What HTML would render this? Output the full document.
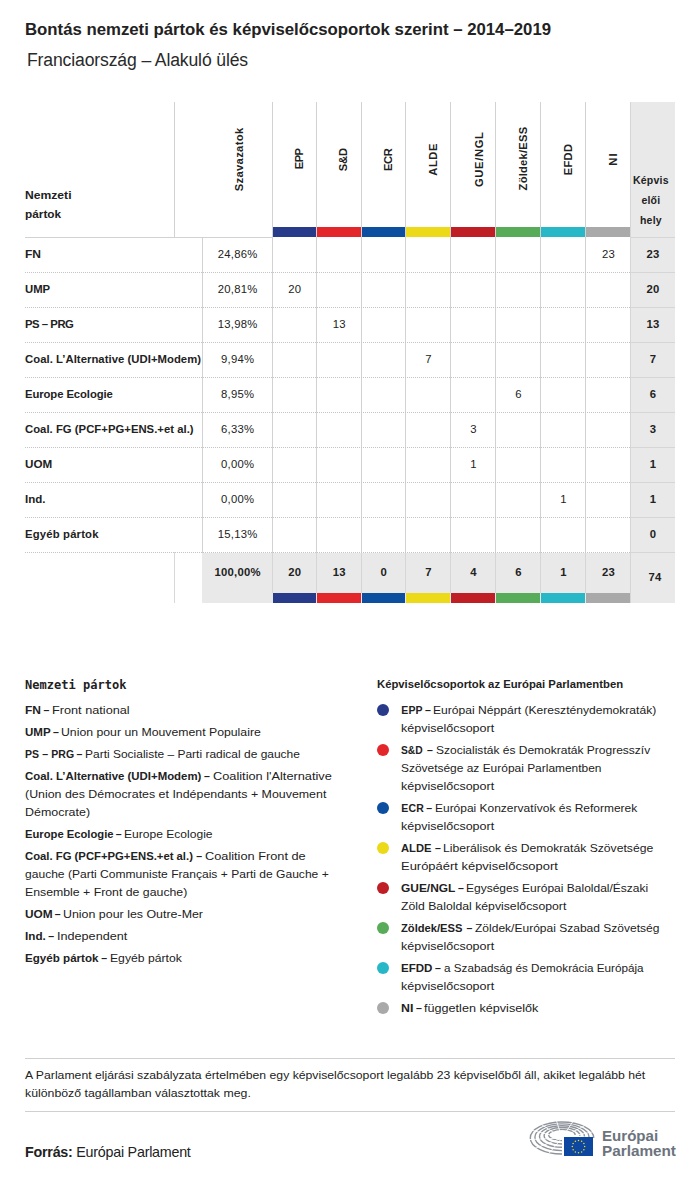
<!DOCTYPE html>
<html lang="hu"><head><meta charset="utf-8"><title>Bontás nemzeti pártok és képviselőcsoportok szerint</title>
<style>
*{margin:0;padding:0;box-sizing:border-box}
html,body{width:700px;height:1177px;background:#fff;overflow:hidden}
body{position:relative;font-family:'Liberation Sans', 'DejaVu Sans', sans-serif;color:#222}
.t{position:absolute;white-space:nowrap;line-height:1}
.t b{font-weight:bold}
.r{position:absolute}
.rot{transform:rotate(-90deg);transform-origin:50% 50%}
.dot{position:absolute;height:1px;border-top:1px dotted #c4c4c4}
.dotc{position:absolute;width:12px;height:12px;border-radius:50%}
.logo{position:absolute}
</style></head><body>
<div class="t" id="title" style="left:25px;top:22px;font-size:16.8px;font-weight:bold;color:#222;letter-spacing:-0.015px;font-family:'Liberation Sans', 'DejaVu Sans', sans-serif">Bontás nemzeti pártok és képviselőcsoportok szerint – 2014–2019</div>
<div class="t" id="sub" style="left:27px;top:52px;font-size:17.6px;font-weight:normal;color:#2a2a2a;letter-spacing:-0.141px;font-family:'Liberation Sans', 'DejaVu Sans', sans-serif">Franciaország – Alakuló ülés</div>
<div class="r" style="left:630px;top:102px;width:45px;height:501px;background:#e9e9e9"></div>
<div class="r" style="left:174px;top:102px;width:1px;height:135px;background:#d2d2d2"></div>
<div class="r" style="left:272px;top:102px;width:1px;height:451px;background:#d2d2d2"></div>
<div class="r" style="left:316px;top:102px;width:1px;height:451px;background:#d2d2d2"></div>
<div class="r" style="left:361px;top:102px;width:1px;height:451px;background:#d2d2d2"></div>
<div class="r" style="left:405px;top:102px;width:1px;height:451px;background:#d2d2d2"></div>
<div class="r" style="left:450px;top:102px;width:1px;height:451px;background:#d2d2d2"></div>
<div class="r" style="left:495px;top:102px;width:1px;height:451px;background:#d2d2d2"></div>
<div class="r" style="left:540px;top:102px;width:1px;height:451px;background:#d2d2d2"></div>
<div class="r" style="left:585px;top:102px;width:1px;height:451px;background:#d2d2d2"></div>
<div class="r" style="left:630px;top:102px;width:1px;height:501px;background:#d6d6d6"></div>
<div class="r" style="left:25px;top:237px;width:247px;height:1px;background:#d2d2d2"></div>
<div class="r" style="left:630px;top:237px;width:45px;height:1px;background:#d6d6d6"></div>
<div class="r" style="left:273px;top:227px;width:43px;height:10px;background:#283a8a"></div>
<div class="r" style="left:317px;top:227px;width:44px;height:10px;background:#e2262a"></div>
<div class="r" style="left:362px;top:227px;width:43px;height:10px;background:#0c4ea0"></div>
<div class="r" style="left:406px;top:227px;width:44px;height:10px;background:#ecd918"></div>
<div class="r" style="left:451px;top:227px;width:44px;height:10px;background:#bf1e24"></div>
<div class="r" style="left:496px;top:227px;width:44px;height:10px;background:#58ab58"></div>
<div class="r" style="left:541px;top:227px;width:44px;height:10px;background:#28b7c7"></div>
<div class="r" style="left:586px;top:227px;width:44px;height:10px;background:#a9a9a9"></div>
<div class="t" id="hn1" style="left:25px;top:190px;font-size:10.5px;font-weight:bold;color:#222;font-family:'Liberation Sans', 'DejaVu Sans', sans-serif;transform:scaleX(1.1551);transform-origin:0 0">Nemzeti</div>
<div class="t" id="hn2" style="left:25px;top:209px;font-size:10.5px;font-weight:bold;color:#222;font-family:'Liberation Sans', 'DejaVu Sans', sans-serif;transform:scaleX(1.1255);transform-origin:0 0">pártok</div>
<div class="t rot" id="hszav" style="left:189.90px;top:153.90px;width:100px;height:11.2px;text-align:center;font-size:11.2px;font-weight:bold;letter-spacing:0.344px;text-indent:0.344px">Szavazatok</div>
<div class="t rot" id="hg0" style="left:249.50px;top:153.40px;width:100px;height:11.2px;text-align:center;font-size:11.2px;font-weight:bold;letter-spacing:-0.650px;text-indent:-0.650px">EPP</div>
<div class="t rot" id="hg1" style="left:294.10px;top:154.40px;width:100px;height:11.2px;text-align:center;font-size:11.2px;font-weight:bold;letter-spacing:-0.050px;text-indent:-0.050px">S&amp;D</div>
<div class="t rot" id="hg2" style="left:338.70px;top:153.90px;width:100px;height:11.2px;text-align:center;font-size:11.2px;font-weight:bold;letter-spacing:-0.350px;text-indent:-0.350px">ECR</div>
<div class="t rot" id="hg3" style="left:384.10px;top:153.60px;width:100px;height:11.2px;text-align:center;font-size:11.2px;font-weight:bold;letter-spacing:0.567px;text-indent:0.567px">ALDE</div>
<div class="t rot" id="hg4" style="left:430.00px;top:154.00px;width:100px;height:11.2px;text-align:center;font-size:11.2px;font-weight:bold;letter-spacing:0.667px;text-indent:0.667px">GUE/NGL</div>
<div class="t rot" id="hg5" style="left:473.70px;top:153.40px;width:100px;height:11.2px;text-align:center;font-size:11.2px;font-weight:bold;letter-spacing:0.222px;text-indent:0.222px">Zöldek/ESS</div>
<div class="t rot" id="hg6" style="left:518.70px;top:154.30px;width:100px;height:11.2px;text-align:center;font-size:11.2px;font-weight:bold;letter-spacing:0.300px;text-indent:0.300px">EFDD</div>
<div class="t rot" id="hg7" style="left:563.70px;top:154.20px;width:100px;height:11.2px;text-align:center;font-size:11.2px;font-weight:bold;letter-spacing:1.300px;text-indent:1.300px">NI</div>
<div class="t" id="hk1" style="left:628.92px;width:44px;text-align:center;top:175px;font-size:10.5px;font-weight:bold;color:#222;letter-spacing:0.240px">Képvis</div>
<div class="t" id="hk2x" style="left:628.92px;width:44px;text-align:center;top:195px;font-size:10.5px;font-weight:bold;color:#222;letter-spacing:0.240px">elői</div>
<div class="t" id="hk3x" style="left:628.92px;width:44px;text-align:center;top:215px;font-size:10.5px;font-weight:bold;color:#222;letter-spacing:0.240px">hely</div>
<div class="r" style="left:202px;top:237px;width:1px;height:316px;background:#d2d2d2"></div>
<div class="t" id="rl0" style="left:25px;top:249px;font-size:11.3px;font-weight:bold;color:#222;font-family:'Liberation Sans', 'DejaVu Sans', sans-serif;transform:scaleX(1.0659);transform-origin:0 0">FN</div>
<div class="t" id="rp0" style="left:207.61px;width:60px;text-align:center;top:249px;font-size:11.3px;font-weight:normal;color:#222;letter-spacing:0.220px">24,86%</div>
<div class="t" id="i1" style="left:578.61px;width:60px;text-align:center;top:249px;font-size:11.3px;font-weight:normal;color:#222;letter-spacing:0.220px">23</div>
<div class="t" id="i2" style="left:623.11px;width:60px;text-align:center;top:249px;font-size:11.3px;font-weight:bold;color:#222;letter-spacing:0.220px">23</div>
<div class="dot" style="left:25px;top:272px;width:605px"></div>
<div class="r" style="left:630px;top:272px;width:45px;height:1px;background:#d6d6d6"></div>
<div class="t" id="rl1" style="left:25px;top:284px;font-size:11.3px;font-weight:bold;color:#222;letter-spacing:0.000px;font-family:'Liberation Sans', 'DejaVu Sans', sans-serif">UMP</div>
<div class="t" id="rp1" style="left:207.61px;width:60px;text-align:center;top:284px;font-size:11.3px;font-weight:normal;color:#222;letter-spacing:0.220px">20,81%</div>
<div class="t" id="i3" style="left:264.86px;width:60px;text-align:center;top:284px;font-size:11.3px;font-weight:normal;color:#222;letter-spacing:0.220px">20</div>
<div class="t" id="i4" style="left:623.11px;width:60px;text-align:center;top:284px;font-size:11.3px;font-weight:bold;color:#222;letter-spacing:0.220px">20</div>
<div class="dot" style="left:25px;top:307px;width:605px"></div>
<div class="r" style="left:630px;top:307px;width:45px;height:1px;background:#d6d6d6"></div>
<div class="t" id="rl2" style="left:25px;top:319px;font-size:11.3px;font-weight:bold;color:#222;letter-spacing:-0.457px;font-family:'Liberation Sans', 'DejaVu Sans', sans-serif">PS – PRG</div>
<div class="t" id="rp2" style="left:207.61px;width:60px;text-align:center;top:319px;font-size:11.3px;font-weight:normal;color:#222;letter-spacing:0.220px">13,98%</div>
<div class="t" id="i5" style="left:309.36px;width:60px;text-align:center;top:319px;font-size:11.3px;font-weight:normal;color:#222;letter-spacing:0.220px">13</div>
<div class="t" id="i6" style="left:623.11px;width:60px;text-align:center;top:319px;font-size:11.3px;font-weight:bold;color:#222;letter-spacing:0.220px">13</div>
<div class="dot" style="left:25px;top:342px;width:605px"></div>
<div class="r" style="left:630px;top:342px;width:45px;height:1px;background:#d6d6d6"></div>
<div class="t" id="rl3" style="left:25px;top:354px;font-size:11.3px;font-weight:bold;color:#222;letter-spacing:0.040px;font-family:'Liberation Sans', 'DejaVu Sans', sans-serif">Coal. L’Alternative (UDI+Modem)</div>
<div class="t" id="rp3" style="left:207.61px;width:60px;text-align:center;top:354px;font-size:11.3px;font-weight:normal;color:#222;letter-spacing:0.220px">9,94%</div>
<div class="t" id="i7" style="left:398.61px;width:60px;text-align:center;top:354px;font-size:11.3px;font-weight:normal;color:#222;letter-spacing:0.220px">7</div>
<div class="t" id="i8" style="left:623.11px;width:60px;text-align:center;top:354px;font-size:11.3px;font-weight:bold;color:#222;letter-spacing:0.220px">7</div>
<div class="dot" style="left:25px;top:377px;width:605px"></div>
<div class="r" style="left:630px;top:377px;width:45px;height:1px;background:#d6d6d6"></div>
<div class="t" id="rl4" style="left:25px;top:389px;font-size:11.3px;font-weight:bold;color:#222;letter-spacing:-0.093px;font-family:'Liberation Sans', 'DejaVu Sans', sans-serif">Europe Ecologie</div>
<div class="t" id="rp4" style="left:207.61px;width:60px;text-align:center;top:389px;font-size:11.3px;font-weight:normal;color:#222;letter-spacing:0.220px">8,95%</div>
<div class="t" id="i9" style="left:488.61px;width:60px;text-align:center;top:389px;font-size:11.3px;font-weight:normal;color:#222;letter-spacing:0.220px">6</div>
<div class="t" id="i10" style="left:623.11px;width:60px;text-align:center;top:389px;font-size:11.3px;font-weight:bold;color:#222;letter-spacing:0.220px">6</div>
<div class="dot" style="left:25px;top:412px;width:605px"></div>
<div class="r" style="left:630px;top:412px;width:45px;height:1px;background:#d6d6d6"></div>
<div class="t" id="rl5" style="left:25px;top:424px;font-size:11.3px;font-weight:bold;color:#222;letter-spacing:0.025px;font-family:'Liberation Sans', 'DejaVu Sans', sans-serif">Coal. FG (PCF+PG+ENS.+et al.)</div>
<div class="t" id="rp5" style="left:207.61px;width:60px;text-align:center;top:424px;font-size:11.3px;font-weight:normal;color:#222;letter-spacing:0.220px">6,33%</div>
<div class="t" id="i11" style="left:443.61px;width:60px;text-align:center;top:424px;font-size:11.3px;font-weight:normal;color:#222;letter-spacing:0.220px">3</div>
<div class="t" id="i12" style="left:623.11px;width:60px;text-align:center;top:424px;font-size:11.3px;font-weight:bold;color:#222;letter-spacing:0.220px">3</div>
<div class="dot" style="left:25px;top:447px;width:605px"></div>
<div class="r" style="left:630px;top:447px;width:45px;height:1px;background:#d6d6d6"></div>
<div class="t" id="rl6" style="left:25px;top:459px;font-size:11.3px;font-weight:bold;color:#222;font-family:'Liberation Sans', 'DejaVu Sans', sans-serif;transform:scaleX(1.0310);transform-origin:0 0">UOM</div>
<div class="t" id="rp6" style="left:207.61px;width:60px;text-align:center;top:459px;font-size:11.3px;font-weight:normal;color:#222;letter-spacing:0.220px">0,00%</div>
<div class="t" id="i13" style="left:443.61px;width:60px;text-align:center;top:459px;font-size:11.3px;font-weight:normal;color:#222;letter-spacing:0.220px">1</div>
<div class="t" id="i14" style="left:623.11px;width:60px;text-align:center;top:459px;font-size:11.3px;font-weight:bold;color:#222;letter-spacing:0.220px">1</div>
<div class="dot" style="left:25px;top:482px;width:605px"></div>
<div class="r" style="left:630px;top:482px;width:45px;height:1px;background:#d6d6d6"></div>
<div class="t" id="rl7" style="left:25px;top:494px;font-size:11.3px;font-weight:bold;color:#222;font-family:'Liberation Sans', 'DejaVu Sans', sans-serif;transform:scaleX(1.0216);transform-origin:0 0">Ind.</div>
<div class="t" id="rp7" style="left:207.61px;width:60px;text-align:center;top:494px;font-size:11.3px;font-weight:normal;color:#222;letter-spacing:0.220px">0,00%</div>
<div class="t" id="i15" style="left:533.61px;width:60px;text-align:center;top:494px;font-size:11.3px;font-weight:normal;color:#222;letter-spacing:0.220px">1</div>
<div class="t" id="i16" style="left:623.11px;width:60px;text-align:center;top:494px;font-size:11.3px;font-weight:bold;color:#222;letter-spacing:0.220px">1</div>
<div class="dot" style="left:25px;top:517px;width:605px"></div>
<div class="r" style="left:630px;top:517px;width:45px;height:1px;background:#d6d6d6"></div>
<div class="t" id="rl8" style="left:25px;top:529px;font-size:11.3px;font-weight:bold;color:#222;letter-spacing:0.173px;font-family:'Liberation Sans', 'DejaVu Sans', sans-serif">Egyéb pártok</div>
<div class="t" id="rp8" style="left:207.61px;width:60px;text-align:center;top:529px;font-size:11.3px;font-weight:normal;color:#222;letter-spacing:0.220px">15,13%</div>
<div class="t" id="i17" style="left:623.11px;width:60px;text-align:center;top:529px;font-size:11.3px;font-weight:bold;color:#222;letter-spacing:0.220px">0</div>
<div class="dot" style="left:25px;top:552px;width:605px"></div>
<div class="r" style="left:630px;top:552px;width:45px;height:1px;background:#d6d6d6"></div>
<div class="r" style="left:202px;top:553px;width:428px;height:50px;background:#e9e9e9"></div>
<div class="r" style="left:174px;top:552px;width:1px;height:51px;background:#d8d8d8"></div>
<div class="r" style="left:272px;top:553px;width:1px;height:40px;background:#d6d6d6"></div>
<div class="r" style="left:316px;top:553px;width:1px;height:40px;background:#d6d6d6"></div>
<div class="r" style="left:361px;top:553px;width:1px;height:40px;background:#d6d6d6"></div>
<div class="r" style="left:405px;top:553px;width:1px;height:40px;background:#d6d6d6"></div>
<div class="r" style="left:450px;top:553px;width:1px;height:40px;background:#d6d6d6"></div>
<div class="r" style="left:495px;top:553px;width:1px;height:40px;background:#d6d6d6"></div>
<div class="r" style="left:540px;top:553px;width:1px;height:40px;background:#d6d6d6"></div>
<div class="r" style="left:585px;top:553px;width:1px;height:40px;background:#d6d6d6"></div>
<div class="r" style="left:273px;top:593px;width:43px;height:10px;background:#283a8a"></div>
<div class="r" style="left:317px;top:593px;width:44px;height:10px;background:#e2262a"></div>
<div class="r" style="left:362px;top:593px;width:43px;height:10px;background:#0c4ea0"></div>
<div class="r" style="left:406px;top:593px;width:44px;height:10px;background:#ecd918"></div>
<div class="r" style="left:451px;top:593px;width:44px;height:10px;background:#bf1e24"></div>
<div class="r" style="left:496px;top:593px;width:44px;height:10px;background:#58ab58"></div>
<div class="r" style="left:541px;top:593px;width:44px;height:10px;background:#28b7c7"></div>
<div class="r" style="left:586px;top:593px;width:44px;height:10px;background:#a9a9a9"></div>
<div class="t" id="i18" style="left:207.61px;width:60px;text-align:center;top:567px;font-size:11.3px;font-weight:bold;color:#222;letter-spacing:0.220px">100,00%</div>
<div class="t" id="i19" style="left:264.86px;width:60px;text-align:center;top:567px;font-size:11.3px;font-weight:bold;color:#222;letter-spacing:0.220px">20</div>
<div class="t" id="i20" style="left:309.36px;width:60px;text-align:center;top:567px;font-size:11.3px;font-weight:bold;color:#222;letter-spacing:0.220px">13</div>
<div class="t" id="i21" style="left:353.86px;width:60px;text-align:center;top:567px;font-size:11.3px;font-weight:bold;color:#222;letter-spacing:0.220px">0</div>
<div class="t" id="i22" style="left:398.61px;width:60px;text-align:center;top:567px;font-size:11.3px;font-weight:bold;color:#222;letter-spacing:0.220px">7</div>
<div class="t" id="i23" style="left:443.61px;width:60px;text-align:center;top:567px;font-size:11.3px;font-weight:bold;color:#222;letter-spacing:0.220px">4</div>
<div class="t" id="i24" style="left:488.61px;width:60px;text-align:center;top:567px;font-size:11.3px;font-weight:bold;color:#222;letter-spacing:0.220px">6</div>
<div class="t" id="i25" style="left:533.61px;width:60px;text-align:center;top:567px;font-size:11.3px;font-weight:bold;color:#222;letter-spacing:0.220px">1</div>
<div class="t" id="i26" style="left:578.61px;width:60px;text-align:center;top:567px;font-size:11.3px;font-weight:bold;color:#222;letter-spacing:0.220px">23</div>
<div class="t" id="i27" style="left:625.11px;width:60px;text-align:center;top:572px;font-size:11.3px;font-weight:bold;color:#222;letter-spacing:0.220px">74</div>
<div class="t" id="lgh" style="left:25px;top:679px;font-size:12px;font-weight:bold;color:#222;letter-spacing:0.031px;font-family:'DejaVu Sans Mono', 'Liberation Mono', monospace">Nemzeti pártok</div>
<div class="t" id="ll0b" style="left:25px;top:705px;font-size:10.5px;font-weight:bold;color:#222;font-family:'Liberation Sans', 'DejaVu Sans', sans-serif;transform:scaleX(1.1428);transform-origin:0 0">FN</div>
<div class="t" id="ll0d" style="left:43.599999999999994px;top:705px;font-size:10.5px;font-weight:bold;color:#222;letter-spacing:0.000px;font-family:'Liberation Sans', 'DejaVu Sans', sans-serif">–</div>
<div class="t" id="ll0" style="left:52.199999999999996px;top:705px;font-size:10.5px;font-weight:normal;color:#222;font-family:'Liberation Sans', 'DejaVu Sans', sans-serif;transform:scaleX(1.2100);transform-origin:0 0">Front national</div>
<div class="t" id="ll1b" style="left:25px;top:727px;font-size:10.5px;font-weight:bold;color:#222;font-family:'Liberation Sans', 'DejaVu Sans', sans-serif;transform:scaleX(1.1000);transform-origin:0 0">UMP</div>
<div class="t" id="ll1d" style="left:52.9px;top:727px;font-size:10.5px;font-weight:bold;color:#222;letter-spacing:0.000px;font-family:'Liberation Sans', 'DejaVu Sans', sans-serif">–</div>
<div class="t" id="ll1" style="left:61.300000000000004px;top:727px;font-size:10.5px;font-weight:normal;color:#222;font-family:'Liberation Sans', 'DejaVu Sans', sans-serif;transform:scaleX(1.1682);transform-origin:0 0">Union pour un Mouvement Populaire</div>
<div class="t" id="ll2b" style="left:25px;top:749px;font-size:10.5px;font-weight:bold;color:#222;letter-spacing:0.114px;font-family:'Liberation Sans', 'DejaVu Sans', sans-serif">PS – PRG</div>
<div class="t" id="ll2d" style="left:76.5px;top:749px;font-size:10.5px;font-weight:bold;color:#222;letter-spacing:0.000px;font-family:'Liberation Sans', 'DejaVu Sans', sans-serif">–</div>
<div class="t" id="ll2" style="left:84.9px;top:749px;font-size:10.5px;font-weight:normal;color:#222;font-family:'Liberation Sans', 'DejaVu Sans', sans-serif;transform:scaleX(1.1400);transform-origin:0 0">Parti Socialiste – Parti radical de gauche</div>
<div class="t" id="ll3b" style="left:25px;top:771px;font-size:10.5px;font-weight:bold;color:#222;font-family:'Liberation Sans', 'DejaVu Sans', sans-serif;transform:scaleX(1.0852);transform-origin:0 0">Coal. L’Alternative (UDI+Modem)</div>
<div class="t" id="ll3d" style="left:204.10000000000002px;top:771px;font-size:10.5px;font-weight:bold;color:#222;letter-spacing:0.000px;font-family:'Liberation Sans', 'DejaVu Sans', sans-serif">–</div>
<div class="t" id="ll3" style="left:212.6px;top:771px;font-size:10.5px;font-weight:normal;color:#222;font-family:'Liberation Sans', 'DejaVu Sans', sans-serif;transform:scaleX(1.2157);transform-origin:0 0">Coalition l'Alternative</div>
<div class="t" id="ll4" style="left:25.0px;top:789px;font-size:10.5px;font-weight:normal;color:#222;font-family:'Liberation Sans', 'DejaVu Sans', sans-serif;transform:scaleX(1.1801);transform-origin:0 0">(Union des Démocrates et Indépendants + Mouvement</div>
<div class="t" id="ll5" style="left:25.0px;top:807px;font-size:10.5px;font-weight:normal;color:#222;font-family:'Liberation Sans', 'DejaVu Sans', sans-serif;transform:scaleX(1.1864);transform-origin:0 0">Démocrate)</div>
<div class="t" id="ll6b" style="left:25px;top:829px;font-size:10.5px;font-weight:bold;color:#222;font-family:'Liberation Sans', 'DejaVu Sans', sans-serif;transform:scaleX(1.0680);transform-origin:0 0">Europe Ecologie</div>
<div class="t" id="ll6d" style="left:115.8px;top:829px;font-size:10.5px;font-weight:bold;color:#222;letter-spacing:0.000px;font-family:'Liberation Sans', 'DejaVu Sans', sans-serif">–</div>
<div class="t" id="ll6" style="left:124.2px;top:829px;font-size:10.5px;font-weight:normal;color:#222;font-family:'Liberation Sans', 'DejaVu Sans', sans-serif;transform:scaleX(1.1489);transform-origin:0 0">Europe Ecologie</div>
<div class="t" id="ll7b" style="left:25px;top:851px;font-size:10.5px;font-weight:bold;color:#222;font-family:'Liberation Sans', 'DejaVu Sans', sans-serif;transform:scaleX(1.0758);transform-origin:0 0">Coal. FG (PCF+PG+ENS.+et al.)</div>
<div class="t" id="ll7d" style="left:196.3px;top:851px;font-size:10.5px;font-weight:bold;color:#222;letter-spacing:0.000px;font-family:'Liberation Sans', 'DejaVu Sans', sans-serif">–</div>
<div class="t" id="ll7" style="left:204.6px;top:851px;font-size:10.5px;font-weight:normal;color:#222;font-family:'Liberation Sans', 'DejaVu Sans', sans-serif;transform:scaleX(1.2153);transform-origin:0 0">Coalition Front de</div>
<div class="t" id="ll8" style="left:25.0px;top:869px;font-size:10.5px;font-weight:normal;color:#222;font-family:'Liberation Sans', 'DejaVu Sans', sans-serif;transform:scaleX(1.1488);transform-origin:0 0">gauche (Parti Communiste Français + Parti de Gauche +</div>
<div class="t" id="ll9" style="left:25.0px;top:887px;font-size:10.5px;font-weight:normal;color:#222;font-family:'Liberation Sans', 'DejaVu Sans', sans-serif;transform:scaleX(1.1708);transform-origin:0 0">Ensemble + Front de gauche)</div>
<div class="t" id="ll10b" style="left:25px;top:909px;font-size:10.5px;font-weight:bold;color:#222;font-family:'Liberation Sans', 'DejaVu Sans', sans-serif;transform:scaleX(1.1307);transform-origin:0 0">UOM</div>
<div class="t" id="ll10d" style="left:54.699999999999996px;top:909px;font-size:10.5px;font-weight:bold;color:#222;letter-spacing:0.000px;font-family:'Liberation Sans', 'DejaVu Sans', sans-serif">–</div>
<div class="t" id="ll10" style="left:63.1px;top:909px;font-size:10.5px;font-weight:normal;color:#222;font-family:'Liberation Sans', 'DejaVu Sans', sans-serif;transform:scaleX(1.1818);transform-origin:0 0">Union pour les Outre-Mer</div>
<div class="t" id="ll11b" style="left:25px;top:931px;font-size:10.5px;font-weight:bold;color:#222;font-family:'Liberation Sans', 'DejaVu Sans', sans-serif;transform:scaleX(1.1127);transform-origin:0 0">Ind.</div>
<div class="t" id="ll11d" style="left:48.199999999999996px;top:931px;font-size:10.5px;font-weight:bold;color:#222;letter-spacing:0.000px;font-family:'Liberation Sans', 'DejaVu Sans', sans-serif">–</div>
<div class="t" id="ll11" style="left:56.6px;top:931px;font-size:10.5px;font-weight:normal;color:#222;font-family:'Liberation Sans', 'DejaVu Sans', sans-serif;transform:scaleX(1.2032);transform-origin:0 0">Independent</div>
<div class="t" id="ll12b" style="left:25px;top:953px;font-size:10.5px;font-weight:bold;color:#222;font-family:'Liberation Sans', 'DejaVu Sans', sans-serif;transform:scaleX(1.1055);transform-origin:0 0">Egyéb pártok</div>
<div class="t" id="ll12d" style="left:101.2px;top:953px;font-size:10.5px;font-weight:bold;color:#222;letter-spacing:0.000px;font-family:'Liberation Sans', 'DejaVu Sans', sans-serif">–</div>
<div class="t" id="ll12" style="left:109.60000000000001px;top:953px;font-size:10.5px;font-weight:normal;color:#222;font-family:'Liberation Sans', 'DejaVu Sans', sans-serif;transform:scaleX(1.1596);transform-origin:0 0">Egyéb pártok</div>
<div class="t" id="rgh" style="left:377px;top:679px;font-size:10.5px;font-weight:bold;color:#222;font-family:'Liberation Sans', 'DejaVu Sans', sans-serif;transform:scaleX(1.0758);transform-origin:0 0">Képviselőcsoportok az Európai Parlamentben</div>
<div class="t" id="rr0b" style="left:401.2px;top:705px;font-size:10.5px;font-weight:bold;color:#222;letter-spacing:0.200px;font-family:'Liberation Sans', 'DejaVu Sans', sans-serif">EPP</div>
<div class="t" id="rr0d" style="left:424.90000000000003px;top:705px;font-size:10.5px;font-weight:bold;color:#222;letter-spacing:0.000px;font-family:'Liberation Sans', 'DejaVu Sans', sans-serif">–</div>
<div class="t" id="rr0" style="left:433.29999999999995px;top:705px;font-size:10.5px;font-weight:normal;color:#222;font-family:'Liberation Sans', 'DejaVu Sans', sans-serif;transform:scaleX(1.1521);transform-origin:0 0">Európai Néppárt (Kereszténydemokraták)</div>
<div class="dotc" style="left:377px;top:704px;background:#283a8a"></div>
<div class="t" id="rr1" style="left:401.2px;top:723px;font-size:10.5px;font-weight:normal;color:#222;font-family:'Liberation Sans', 'DejaVu Sans', sans-serif;transform:scaleX(1.1913);transform-origin:0 0">képviselőcsoport</div>
<div class="t" id="rr2b" style="left:401.2px;top:745px;font-size:10.5px;font-weight:bold;color:#222;font-family:'Liberation Sans', 'DejaVu Sans', sans-serif;transform:scaleX(0.9778);transform-origin:0 0">S&amp;D</div>
<div class="t" id="rr2d" style="left:426.90000000000003px;top:745px;font-size:10.5px;font-weight:bold;color:#222;letter-spacing:0.000px;font-family:'Liberation Sans', 'DejaVu Sans', sans-serif">–</div>
<div class="t" id="rr2" style="left:435.5px;top:745px;font-size:10.5px;font-weight:normal;color:#222;font-family:'Liberation Sans', 'DejaVu Sans', sans-serif;transform:scaleX(1.1435);transform-origin:0 0">Szocialisták és Demokraták Progresszív</div>
<div class="dotc" style="left:377px;top:744px;background:#e2262a"></div>
<div class="t" id="rr3" style="left:401.2px;top:763px;font-size:10.5px;font-weight:normal;color:#222;font-family:'Liberation Sans', 'DejaVu Sans', sans-serif;transform:scaleX(1.1374);transform-origin:0 0">Szövetsége az Európai Parlamentben</div>
<div class="t" id="rr4" style="left:401.2px;top:781px;font-size:10.5px;font-weight:normal;color:#222;font-family:'Liberation Sans', 'DejaVu Sans', sans-serif;transform:scaleX(1.1913);transform-origin:0 0">képviselőcsoport</div>
<div class="t" id="rr5b" style="left:401.2px;top:803px;font-size:10.5px;font-weight:bold;color:#222;letter-spacing:0.300px;font-family:'Liberation Sans', 'DejaVu Sans', sans-serif">ECR</div>
<div class="t" id="rr5d" style="left:426.3px;top:803px;font-size:10.5px;font-weight:bold;color:#222;letter-spacing:0.000px;font-family:'Liberation Sans', 'DejaVu Sans', sans-serif">–</div>
<div class="t" id="rr5" style="left:435.0px;top:803px;font-size:10.5px;font-weight:normal;color:#222;font-family:'Liberation Sans', 'DejaVu Sans', sans-serif;transform:scaleX(1.1398);transform-origin:0 0">Európai Konzervatívok és Reformerek</div>
<div class="dotc" style="left:377px;top:802px;background:#0c4ea0"></div>
<div class="t" id="rr6" style="left:401.2px;top:821px;font-size:10.5px;font-weight:normal;color:#222;font-family:'Liberation Sans', 'DejaVu Sans', sans-serif;transform:scaleX(1.1913);transform-origin:0 0">képviselőcsoport</div>
<div class="t" id="rr7b" style="left:401.2px;top:843px;font-size:10.5px;font-weight:bold;color:#222;font-family:'Liberation Sans', 'DejaVu Sans', sans-serif;transform:scaleX(1.0645);transform-origin:0 0">ALDE</div>
<div class="t" id="rr7d" style="left:435.1px;top:843px;font-size:10.5px;font-weight:bold;color:#222;letter-spacing:0.000px;font-family:'Liberation Sans', 'DejaVu Sans', sans-serif">–</div>
<div class="t" id="rr7" style="left:443.0px;top:843px;font-size:10.5px;font-weight:normal;color:#222;font-family:'Liberation Sans', 'DejaVu Sans', sans-serif;transform:scaleX(1.1582);transform-origin:0 0">Liberálisok és Demokraták Szövetsége</div>
<div class="dotc" style="left:377px;top:842px;background:#ecd918"></div>
<div class="t" id="rr8" style="left:401.2px;top:861px;font-size:10.5px;font-weight:normal;color:#222;font-family:'Liberation Sans', 'DejaVu Sans', sans-serif;transform:scaleX(1.2330);transform-origin:0 0">Európáért képviselőcsoport</div>
<div class="t" id="rr9b" style="left:401.2px;top:883px;font-size:10.5px;font-weight:bold;color:#222;font-family:'Liberation Sans', 'DejaVu Sans', sans-serif;transform:scaleX(1.1354);transform-origin:0 0">GUE/NGL</div>
<div class="t" id="rr9d" style="left:458.0px;top:883px;font-size:10.5px;font-weight:bold;color:#222;letter-spacing:0.000px;font-family:'Liberation Sans', 'DejaVu Sans', sans-serif">–</div>
<div class="t" id="rr9" style="left:465.79999999999995px;top:883px;font-size:10.5px;font-weight:normal;color:#222;font-family:'Liberation Sans', 'DejaVu Sans', sans-serif;transform:scaleX(1.1434);transform-origin:0 0">Egységes Európai Baloldal/Északi</div>
<div class="dotc" style="left:377px;top:882px;background:#bf1e24"></div>
<div class="t" id="rr10" style="left:401.2px;top:901px;font-size:10.5px;font-weight:normal;color:#222;font-family:'Liberation Sans', 'DejaVu Sans', sans-serif;transform:scaleX(1.1655);transform-origin:0 0">Zöld Baloldal képviselőcsoport</div>
<div class="t" id="rr11b" style="left:401.2px;top:923px;font-size:10.5px;font-weight:bold;color:#222;font-family:'Liberation Sans', 'DejaVu Sans', sans-serif;transform:scaleX(1.0643);transform-origin:0 0">Zöldek/ESS</div>
<div class="t" id="rr11d" style="left:466.6px;top:923px;font-size:10.5px;font-weight:bold;color:#222;letter-spacing:0.000px;font-family:'Liberation Sans', 'DejaVu Sans', sans-serif">–</div>
<div class="t" id="rr11" style="left:474.7px;top:923px;font-size:10.5px;font-weight:normal;color:#222;font-family:'Liberation Sans', 'DejaVu Sans', sans-serif;transform:scaleX(1.1449);transform-origin:0 0">Zöldek/Európai Szabad Szövetség</div>
<div class="dotc" style="left:377px;top:922px;background:#58ab58"></div>
<div class="t" id="rr12" style="left:401.2px;top:941px;font-size:10.5px;font-weight:normal;color:#222;font-family:'Liberation Sans', 'DejaVu Sans', sans-serif;transform:scaleX(1.1913);transform-origin:0 0">képviselőcsoport</div>
<div class="t" id="rr13b" style="left:401.2px;top:963px;font-size:10.5px;font-weight:bold;color:#222;font-family:'Liberation Sans', 'DejaVu Sans', sans-serif;transform:scaleX(1.1000);transform-origin:0 0">EFDD</div>
<div class="t" id="rr13d" style="left:435.1px;top:963px;font-size:10.5px;font-weight:bold;color:#222;letter-spacing:0.000px;font-family:'Liberation Sans', 'DejaVu Sans', sans-serif">–</div>
<div class="t" id="rr13" style="left:443.79999999999995px;top:963px;font-size:10.5px;font-weight:normal;color:#222;font-family:'Liberation Sans', 'DejaVu Sans', sans-serif;transform:scaleX(1.1138);transform-origin:0 0">a Szabadság és Demokrácia Európája</div>
<div class="dotc" style="left:377px;top:962px;background:#28b7c7"></div>
<div class="t" id="rr14" style="left:401.2px;top:981px;font-size:10.5px;font-weight:normal;color:#222;font-family:'Liberation Sans', 'DejaVu Sans', sans-serif;transform:scaleX(1.1913);transform-origin:0 0">képviselőcsoport</div>
<div class="t" id="rr15b" style="left:401.2px;top:1003px;font-size:10.5px;font-weight:bold;color:#222;font-family:'Liberation Sans', 'DejaVu Sans', sans-serif;transform:scaleX(1.1770);transform-origin:0 0">NI</div>
<div class="t" id="rr15d" style="left:416.0px;top:1003px;font-size:10.5px;font-weight:bold;color:#222;letter-spacing:0.000px;font-family:'Liberation Sans', 'DejaVu Sans', sans-serif">–</div>
<div class="t" id="rr15" style="left:423.9px;top:1003px;font-size:10.5px;font-weight:normal;color:#222;font-family:'Liberation Sans', 'DejaVu Sans', sans-serif;transform:scaleX(1.2023);transform-origin:0 0">független képviselők</div>
<div class="dotc" style="left:377px;top:1002px;background:#a9a9a9"></div>
<div class="r" style="left:25px;top:1058px;width:650px;height:1px;background:#d0d0d0"></div>
<div class="r" style="left:25px;top:1111px;width:650px;height:1px;background:#d0d0d0"></div>
<div class="t" id="n1" style="left:25px;top:1070px;font-size:10.5px;font-weight:normal;color:#222;font-family:'Liberation Sans', 'DejaVu Sans', sans-serif;transform:scaleX(1.1639);transform-origin:0 0">A Parlament eljárási szabályzata értelmében egy képviselőcsoport legalább 23 képviselőből áll, akiket legalább hét</div>
<div class="t" id="n2" style="left:25px;top:1088px;font-size:10.5px;font-weight:normal;color:#222;font-family:'Liberation Sans', 'DejaVu Sans', sans-serif;transform:scaleX(1.1723);transform-origin:0 0">különböző tagállamban választottak meg.</div>
<div class="t" id="src" style="left:25px;top:1145px;font-size:14.3px;font-weight:normal;color:#222;letter-spacing:-0.242px;font-family:'Liberation Sans', 'DejaVu Sans', sans-serif"><b>Forrás:</b> Európai Parlament</div>
<div class="t" id="lg1" style="left:601.5px;top:1129px;font-size:14px;font-weight:bold;color:#6c737d;font-family:'Liberation Sans', 'DejaVu Sans', sans-serif;transform:scaleX(1.0769);transform-origin:0 0">Európai</div>
<div class="t" id="lg2" style="left:601.5px;top:1144px;font-size:14px;font-weight:bold;color:#6c737d;font-family:'Liberation Sans', 'DejaVu Sans', sans-serif;transform:scaleX(1.0926);transform-origin:0 0">Parlament</div>
<svg class="logo" style="left:528px;top:1120px" width="70" height="40" viewBox="0 0 70 40">
<g fill="none" stroke="#8f949b" stroke-width="1.4"><path d="M65.70,18.00 A31.70,16.00 0 1 0 34.00,34.00"/><path d="M61.10,17.25 A27.10,13.40 0 1 0 34.00,30.65"/><path d="M56.50,16.50 A22.50,10.80 0 1 0 34.00,27.30"/><path d="M51.90,15.75 A17.90,8.20 0 1 0 34.00,23.95"/><path d="M47.30,15.00 A13.30,5.60 0 1 0 34.00,20.60"/></g>
<g stroke="#fff" stroke-width="0.9"><line x1="34.0" y1="18.0" x2="71.59" y2="10.48"/><line x1="34.0" y1="18.0" x2="62.28" y2="2.44"/><line x1="34.0" y1="18.0" x2="47.68" y2="-2.67"/><line x1="34.0" y1="18.0" x2="27.05" y2="-3.67"/><line x1="34.0" y1="18.0" x2="8.29" y2="1.15"/><line x1="34.0" y1="18.0" x2="-2.25" y2="8.70"/><line x1="34.0" y1="18.0" x2="-5.85" y2="19.92"/><line x1="34.0" y1="18.0" x2="1.23" y2="30.62"/><line x1="34.0" y1="18.0" x2="17.10" y2="37.94"/></g>
<rect x="36" y="17" width="29" height="19" fill="#0d47a0"/>
<g fill="#f2dc1d"><circle cx="50.50" cy="20.40" r="0.75"/><circle cx="53.60" cy="21.23" r="0.75"/><circle cx="55.87" cy="23.50" r="0.75"/><circle cx="56.70" cy="26.60" r="0.75"/><circle cx="55.87" cy="29.70" r="0.75"/><circle cx="53.60" cy="31.97" r="0.75"/><circle cx="50.50" cy="32.80" r="0.75"/><circle cx="47.40" cy="31.97" r="0.75"/><circle cx="45.13" cy="29.70" r="0.75"/><circle cx="44.30" cy="26.60" r="0.75"/><circle cx="45.13" cy="23.50" r="0.75"/><circle cx="47.40" cy="21.23" r="0.75"/></g>
</svg>
</body></html>
